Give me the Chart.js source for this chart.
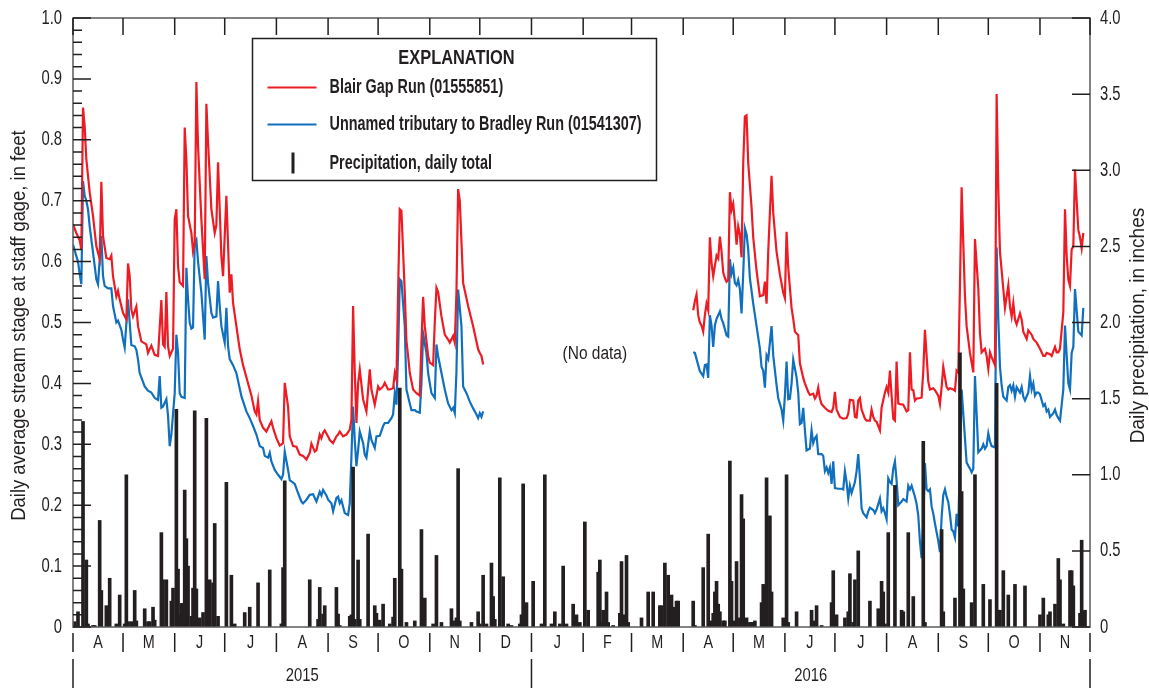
<!DOCTYPE html>
<html>
<head>
<meta charset="utf-8">
<title>Daily stream stage and precipitation, 2015-2016</title>
<script src="https://cdn.jsdelivr.net/npm/chart.js@4.4.1/dist/chart.umd.min.js"></script>
<style>
  html, body { margin: 0; padding: 0; background: #fff; }
  #wrap { width: 1149px; height: 688px; }
</style>
</head>
<body>
<div id="wrap"><canvas id="stageChart" width="1149" height="688"></canvas></div>
<script>
// Day numbers count from 1 April 2015 (day 0) through 1 December 2016 (day 610)
const monthStarts = [0, 30, 61, 91, 122, 153, 183, 214, 244, 275, 306, 335, 366, 396, 427, 457, 488, 519, 549, 580, 610]
const monthLabels = ['A', 'M', 'J', 'J', 'A', 'S', 'O', 'N', 'D', 'J', 'F', 'M', 'A', 'M', 'J', 'J', 'A', 'S', 'O', 'N']
const yearStarts = [0, 275, 610]
const yearLabels = ['2015', '2016']

const stageTicks = [0, 0.1, 0.2, 0.3, 0.4, 0.5, 0.6, 0.7, 0.8, 0.9, 1.0]
const stageTickLabels = ['0', '0.1', '0.2', '0.3', '0.4', '0.5', '0.6', '0.7', '0.8', '0.9', '1.0']
const rainTicks = [0, 0.5, 1.0, 1.5, 2.0, 2.5, 3.0, 3.5, 4.0]
const rainTickLabels = ['0', '0.5', '1.0', '1.5', '2.0', '2.5', '3.0', '3.5', '4.0']

// Blair Gap Run (01555851), daily average stage, feet
const blairDay2015 = [
  0, 2, 4, 5, 6, 7, 8, 10, 12, 14,
  16, 17, 18, 20, 22, 23, 24, 26, 27, 28,
  30, 32, 33, 34, 35, 36, 38, 39, 41, 44,
  45, 47, 49, 51, 53, 54, 55, 56, 57, 58,
  60, 61, 62, 63, 64, 66, 67, 68, 69, 71,
  72, 73, 74, 75, 77, 79, 80, 81, 83, 85,
  86, 87, 88, 89, 90, 92, 93, 94, 95, 96,
  98, 100, 102, 104, 106, 107, 109, 110, 111, 112,
  114, 116, 119, 120, 122, 124, 126, 127, 129, 130,
  132, 134, 136, 138, 140, 142, 143, 145, 146, 148,
  149, 150, 151, 153, 154, 156, 158, 159, 160, 162,
  164, 166, 167, 168, 169, 170, 171, 172, 174, 176,
  178, 179, 181, 183, 184, 186, 187, 189, 190, 192,
  193, 194, 195, 196, 197, 199, 200, 201, 202, 204,
  206, 208, 209, 210, 211, 213, 214, 216, 217, 218,
  219, 221, 223, 225, 226, 228, 229, 230, 231, 232,
  234, 237, 240, 243, 244, 245, 246
]
const blairStage2015 = [
  0.661, 0.647, 0.635, 0.62, 0.853, 0.823, 0.768, 0.714, 0.675, 0.625,
  0.604, 0.731, 0.642, 0.606, 0.604, 0.61, 0.576, 0.543, 0.552, 0.538,
  0.516, 0.505, 0.597, 0.576, 0.521, 0.51, 0.526, 0.494, 0.469, 0.464,
  0.45, 0.462, 0.447, 0.445, 0.537, 0.464, 0.46, 0.55, 0.461, 0.445,
  0.457, 0.669, 0.686, 0.593, 0.566, 0.56, 0.82, 0.768, 0.675, 0.647,
  0.617, 0.63, 0.895, 0.79, 0.669, 0.571, 0.859, 0.796, 0.686, 0.647,
  0.66, 0.763, 0.686, 0.609, 0.576, 0.708, 0.628, 0.549, 0.579, 0.532,
  0.494, 0.456, 0.43, 0.41, 0.39, 0.38, 0.354, 0.349, 0.371, 0.34,
  0.327, 0.321, 0.338, 0.327, 0.31, 0.298, 0.302, 0.401, 0.362, 0.313,
  0.297, 0.296, 0.283, 0.281, 0.275, 0.286, 0.301, 0.288, 0.29, 0.316,
  0.31, 0.319, 0.323, 0.313, 0.307, 0.302, 0.313, 0.316, 0.321, 0.313,
  0.316, 0.324, 0.34, 0.527, 0.42, 0.335, 0.40, 0.423, 0.374, 0.354,
  0.423, 0.39, 0.365, 0.395, 0.39, 0.395, 0.401, 0.39, 0.39, 0.392,
  0.417, 0.406, 0.55, 0.686, 0.683, 0.549, 0.47, 0.445, 0.417, 0.39,
  0.384, 0.38, 0.467, 0.542, 0.494, 0.445, 0.434, 0.43, 0.50, 0.557,
  0.55, 0.51, 0.48, 0.472, 0.467, 0.478, 0.467, 0.55, 0.719, 0.70,
  0.565, 0.527, 0.494, 0.456, 0.45, 0.445, 0.431
]
const blairDay2016 = [
  372, 373, 374, 375, 376, 377, 378, 379, 380, 381,
  382, 383, 384, 386, 387, 388, 389, 390, 391, 392,
  393, 394, 395, 396, 397, 398, 399, 400, 401, 402,
  403, 404, 405, 407, 408, 410, 412, 414, 415, 416,
  417, 418, 419, 420, 422, 424, 426, 427, 428, 429,
  431, 432, 433, 435, 436, 438, 439, 441, 442, 444,
  445, 446, 447, 448, 449, 451, 453, 455, 456, 457,
  458, 459, 460, 462, 464, 465, 466, 468, 469, 470,
  471, 472, 473, 475, 476, 478, 479, 480, 481, 482,
  484, 485, 487, 488, 489, 490, 491, 492, 493, 494,
  495, 496, 498, 500, 501, 502, 503, 504, 505, 506,
  508, 509, 510, 511, 513, 514, 516, 517, 519, 520,
  521, 522, 524, 525, 526, 528, 529, 530, 531, 532,
  533, 534, 535, 536, 538, 540, 541, 543, 544, 545,
  547, 548, 549, 550, 551, 553, 554, 555, 556, 558,
  559, 561, 562, 563, 564, 565, 566, 568, 569, 570,
  572, 573, 575, 576, 578, 580, 582, 583, 584, 586,
  587, 589, 590, 591, 592, 594, 595, 596, 597, 598,
  599, 600, 601, 602, 603, 604, 605, 606
]
const blairStage2016 = [
  0.52, 0.535, 0.546, 0.512, 0.50, 0.495, 0.485, 0.512, 0.531, 0.52,
  0.64, 0.598, 0.576, 0.61, 0.605, 0.641, 0.617, 0.582, 0.573, 0.567,
  0.57, 0.714, 0.685, 0.695, 0.665, 0.628, 0.658, 0.645, 0.607, 0.762,
  0.838, 0.84, 0.762, 0.689, 0.64, 0.585, 0.543, 0.545, 0.567, 0.531,
  0.616, 0.68, 0.741, 0.68, 0.616, 0.579, 0.549, 0.54, 0.649, 0.59,
  0.524, 0.506, 0.485, 0.479, 0.433, 0.409, 0.40, 0.386, 0.381, 0.383,
  0.375, 0.38, 0.393, 0.375, 0.366, 0.36, 0.355, 0.353, 0.36, 0.386,
  0.357, 0.351, 0.345, 0.342, 0.343, 0.35, 0.373, 0.372, 0.345, 0.344,
  0.372, 0.376, 0.357, 0.342, 0.339, 0.339, 0.357, 0.345, 0.339, 0.337,
  0.323, 0.36, 0.385, 0.394, 0.385, 0.421, 0.38, 0.342, 0.339, 0.436,
  0.367, 0.366, 0.365, 0.354, 0.356, 0.451, 0.39, 0.389, 0.372, 0.375,
  0.376, 0.377, 0.42, 0.488, 0.403, 0.39, 0.392, 0.389, 0.38, 0.366,
  0.394, 0.427, 0.394, 0.39, 0.392, 0.39, 0.388, 0.421, 0.418, 0.56,
  0.722, 0.63, 0.543, 0.494, 0.45, 0.418, 0.637, 0.556, 0.482, 0.451,
  0.457, 0.445, 0.424, 0.451, 0.443, 0.43, 0.875, 0.719, 0.616, 0.555,
  0.524, 0.561, 0.526, 0.51, 0.532, 0.505, 0.497, 0.515, 0.505, 0.485,
  0.473, 0.487, 0.48, 0.473, 0.467, 0.457, 0.445, 0.445, 0.45, 0.448,
  0.445, 0.46, 0.451, 0.451, 0.457, 0.517, 0.686, 0.61, 0.57, 0.56,
  0.62, 0.625, 0.751, 0.70, 0.652, 0.64, 0.622, 0.647
]

// Unnamed tributary to Bradley Run (01541307), daily average stage, feet
const bradleyDay2015 = [
  0, 2, 3, 4, 5, 6, 7, 8, 9, 10,
  12, 14, 15, 17, 18, 19, 21, 23, 24, 26,
  27, 29, 30, 31, 33, 34, 35, 37, 38, 39,
  40, 43, 45, 47, 49, 51, 52, 53, 54, 56,
  57, 58, 59, 61, 62, 63, 64, 65, 67, 68,
  69, 70, 71, 72, 73, 74, 75, 77, 79, 80,
  81, 83, 84, 86, 87, 88, 89, 91, 92, 93,
  94, 96, 98, 101, 104, 106, 108, 110, 112, 114,
  115, 117, 118, 119, 121, 123, 125, 126, 127, 129,
  130, 133, 135, 137, 138, 140, 142, 144, 146, 147,
  148, 149, 150, 152, 153, 155, 156, 158, 159, 160,
  161, 163, 165, 166, 167, 168, 169, 170, 171, 172,
  174, 175, 176, 178, 179, 181, 182, 184, 186, 187,
  189, 191, 192, 193, 194, 195, 196, 197, 199, 200,
  202, 203, 205, 206, 208, 209, 210, 212, 213, 215,
  217, 218, 219, 221, 223, 225, 227, 228, 229, 230,
  231, 233, 234, 236, 238, 240, 242, 243, 244, 245,
  246
]
const bradleyStage2015 = [
  0.628, 0.609, 0.60, 0.58, 0.563, 0.732, 0.708, 0.70, 0.686, 0.658,
  0.615, 0.571, 0.563, 0.642, 0.576, 0.56, 0.556, 0.556, 0.527, 0.50,
  0.503, 0.488, 0.472, 0.459, 0.538, 0.50, 0.463, 0.461, 0.455, 0.439,
  0.417, 0.395, 0.388, 0.385, 0.376, 0.373, 0.412, 0.36, 0.362, 0.374,
  0.347, 0.297, 0.316, 0.384, 0.48, 0.45, 0.384, 0.378, 0.376, 0.59,
  0.538, 0.50, 0.49, 0.492, 0.631, 0.636, 0.60, 0.549, 0.472, 0.609,
  0.565, 0.516, 0.508, 0.51, 0.568, 0.527, 0.494, 0.467, 0.524, 0.461,
  0.44, 0.43, 0.417, 0.379, 0.354, 0.343, 0.33, 0.316, 0.297, 0.294,
  0.281, 0.278, 0.286, 0.272, 0.258, 0.25, 0.243, 0.25, 0.288, 0.258,
  0.241, 0.235, 0.22, 0.206, 0.203, 0.209, 0.217, 0.218, 0.206, 0.214,
  0.222, 0.216, 0.225, 0.216, 0.209, 0.203, 0.19, 0.212, 0.214, 0.203,
  0.208, 0.187, 0.184, 0.203, 0.28, 0.362, 0.307, 0.264, 0.29, 0.321,
  0.302, 0.283, 0.278, 0.321, 0.307, 0.294, 0.313, 0.314, 0.33, 0.335,
  0.335, 0.343, 0.349, 0.384, 0.365, 0.45, 0.571, 0.568, 0.494, 0.39,
  0.367, 0.356, 0.356, 0.354, 0.352, 0.40, 0.482, 0.45, 0.417, 0.384,
  0.376, 0.464, 0.445, 0.417, 0.39, 0.367, 0.356, 0.36, 0.351, 0.42,
  0.554, 0.494, 0.395, 0.384, 0.37, 0.359, 0.349, 0.343, 0.351, 0.345,
  0.354
]
const bradleyDay2016 = [
  372, 373, 375, 376, 378, 379, 380, 381, 382, 383,
  384, 385, 386, 388, 389, 390, 392, 393, 394, 395,
  396, 397, 398, 399, 400, 401, 402, 403, 404, 405,
  406, 408, 410, 412, 413, 414, 415, 416, 417, 419,
  420, 422, 423, 425, 426, 427, 428, 429, 430, 431,
  432, 434, 435, 436, 437, 438, 439, 440, 442, 443,
  444, 445, 446, 447, 449, 450, 451, 452, 453, 454,
  455, 456, 457, 459, 461, 462, 463, 464, 465, 466,
  467, 469, 470, 471, 472, 473, 474, 476, 477, 478,
  480, 481, 482, 484, 485, 486, 487, 488, 489, 490,
  491, 492, 493, 494, 495, 497, 498, 500, 501, 502,
  503, 505, 506, 507, 508, 509, 510, 511, 512, 513,
  514, 515, 516, 517, 519, 520, 521, 522, 523, 524,
  525, 526, 527, 528, 529, 530, 531, 532, 533, 534,
  535, 536, 538, 539, 540, 541, 542, 543, 545, 546,
  547, 548, 549, 550, 551, 553, 554, 555, 556, 557,
  558, 560, 561, 562, 563, 564, 565, 566, 568, 569,
  570, 571, 573, 574, 575, 576, 577, 578, 579, 580,
  582, 583, 584, 585, 586, 588, 589, 590, 591, 592,
  594, 595, 596, 597, 598, 599, 600, 601, 602, 603,
  604, 605, 606
]
const bradleyStage2016 = [
  0.451, 0.45, 0.43, 0.42, 0.412, 0.43, 0.431, 0.409, 0.512, 0.495,
  0.46, 0.495, 0.506, 0.518, 0.506, 0.499, 0.479, 0.477, 0.604, 0.58,
  0.59, 0.565, 0.561, 0.57, 0.555, 0.515, 0.58, 0.655, 0.645, 0.62,
  0.573, 0.531, 0.494, 0.457, 0.427, 0.421, 0.393, 0.446, 0.44, 0.494,
  0.446, 0.397, 0.376, 0.357, 0.339, 0.38, 0.436, 0.374, 0.375, 0.40,
  0.439, 0.41, 0.385, 0.333, 0.335, 0.36, 0.323, 0.29, 0.293, 0.323,
  0.302, 0.31, 0.314, 0.284, 0.284, 0.281, 0.256, 0.262, 0.253, 0.262,
  0.235, 0.272, 0.228, 0.227, 0.227, 0.226, 0.256, 0.238, 0.211, 0.232,
  0.22, 0.238, 0.256, 0.284, 0.244, 0.195, 0.187, 0.18, 0.19, 0.196,
  0.192, 0.187, 0.193, 0.211, 0.19, 0.195, 0.187, 0.177, 0.244, 0.238,
  0.235, 0.26, 0.272, 0.24, 0.2, 0.206, 0.21, 0.206, 0.232, 0.226,
  0.232, 0.214, 0.202, 0.183, 0.14, 0.113, 0.17, 0.269, 0.226, 0.223,
  0.226, 0.198, 0.186, 0.17, 0.141, 0.123, 0.18, 0.217, 0.226, 0.214,
  0.205, 0.185, 0.16, 0.157, 0.147, 0.186, 0.165, 0.28, 0.39, 0.35,
  0.31, 0.27, 0.26, 0.254, 0.26, 0.412, 0.35, 0.287, 0.293, 0.30,
  0.293, 0.297, 0.318, 0.305, 0.297, 0.295, 0.623, 0.506, 0.427, 0.397,
  0.378, 0.372, 0.394, 0.397, 0.388, 0.397, 0.378, 0.394, 0.385, 0.394,
  0.378, 0.372, 0.385, 0.412, 0.39, 0.40, 0.38, 0.385, 0.385, 0.382,
  0.363, 0.366, 0.354, 0.357, 0.345, 0.351, 0.357, 0.348, 0.343, 0.339,
  0.39, 0.495, 0.446, 0.40, 0.39, 0.45, 0.46, 0.555, 0.52, 0.485,
  0.482, 0.479, 0.524
]

// Daily precipitation totals, inches
const rainDay = [
  1, 3, 6, 8, 9, 12, 13, 16, 17, 20,
  22, 26, 28, 31, 32, 33, 35, 37, 38, 43,
  45, 46, 48, 49, 53, 54, 56, 59, 60, 62,
  63, 64, 65, 67, 68, 69, 71, 72, 73, 74,
  76, 78, 80, 82, 84, 85, 87, 92, 95, 97,
  103, 106, 111, 118, 125, 126, 127, 142, 147, 148,
  150, 151, 158, 159, 160, 166, 167, 168, 169, 171,
  172, 177, 181, 182, 184, 186, 190, 192, 193, 196,
  197, 200, 205, 209, 211, 216, 218, 221, 227, 228,
  230, 231, 232, 239, 243, 244, 246, 248, 251, 252,
  253, 256, 258, 261, 263, 268, 269, 270, 272, 276,
  281, 283, 287, 289, 292, 294, 296, 300, 301, 302,
  304, 307, 309, 315, 316, 317, 318, 320, 321, 324,
  328, 329, 330, 332, 333, 341, 345, 348, 352, 353,
  355, 357, 359, 360, 362, 363, 372, 373, 378, 381,
  383, 384, 385, 386, 387, 388, 390, 391, 394, 395,
  396, 398, 400, 401, 402, 404, 406, 407, 408, 409,
  413, 414, 416, 418, 419, 426, 428, 429, 434, 443,
  444, 446, 449, 455, 456, 458, 463, 465, 466, 468,
  469, 471, 478, 483, 485, 486, 487, 489, 493, 497,
  498, 501, 504, 510, 511, 521, 522, 529, 532, 533,
  534, 539, 541, 546, 550, 554, 555, 556, 558, 561,
  565, 571, 580, 582, 585, 586, 589, 591, 592, 594,
  598, 599, 600, 604, 605, 606, 607
]
const rainInches = [
  0.035, 0.1, 1.35, 0.44, 0.02, 0.01, 0.01, 0.70, 0.24, 0.14,
  0.32, 0.02, 0.21, 0.02, 1.0, 0.035, 0.035, 0.24, 0.04, 0.12,
  0.035, 0.035, 0.13, 0.045, 0.62, 0.31, 0.31, 0.17, 0.255, 1.43,
  0.38, 0.08, 0.155, 0.90, 0.58, 0.40, 0.07, 0.255, 1.42, 0.25,
  0.06, 0.095, 1.37, 0.31, 0.29, 0.68, 0.07, 0.95, 0.34, 0.02,
  0.095, 0.13, 0.29, 0.375, 0.02, 0.39, 0.96, 0.31, 0.05, 0.26,
  0.085, 0.14, 0.26, 0.085, 0.01, 0.07, 0.08, 1.05, 0.05, 0.44,
  0.05, 0.61, 0.14, 0.09, 0.045, 0.15, 0.02, 0.065, 0.32, 1.57,
  0.38, 0.03, 0.04, 0.64, 0.19, 0.02, 0.47, 0.03, 0.12, 0.04,
  0.06, 1.04, 0.04, 0.03, 0.10, 0.02, 0.34, 0.02, 0.42, 0.2,
  0.05, 0.98, 0.33, 0.02, 0.01, 0.02, 0.08, 0.94, 0.16, 0.30,
  0.02, 1.0, 0.02, 0.1, 0.02, 0.4, 0.02, 0.15, 0.06, 0.08,
  0.03, 0.69, 0.11, 0.36, 0.44, 0.03, 0.11, 0.23, 0.03, 0.01,
  0.09, 0.43, 0.08, 0.47, 0.03, 0.06, 0.23, 0.23, 0.14, 0.14,
  0.42, 0.34, 0.21, 0.13, 0.17, 0.17, 0.17, 0.01, 0.39, 0.61,
  0.04, 0.09, 0.23, 0.3, 0.15, 0.1, 0.04, 0.04, 1.09, 0.30,
  0.04, 0.43, 0.06, 0.87, 0.71, 0.06, 0.03, 0.03, 0.03, 0.04,
  0.16, 0.28, 0.98, 0.73, 0.23, 0.06, 1.0, 0.03, 0.1, 0.11,
  0.04, 0.14, 0.01, 0.16, 0.37, 0.08, 0.06, 0.1, 0.35, 0.03,
  0.31, 0.5, 0.17, 0.12, 0.3, 0.23, 0.02, 0.62, 0.93, 0.11,
  0.1, 0.62, 0.2, 1.22, 0.03, 0.64, 0.1, 0.19, 1.80, 0.89,
  0.25, 0.16, 1.0, 0.28, 0.18, 1.6, 0.11, 0.11, 0.37, 0.21,
  0.28, 0.27, 0.08, 0.19, 0.08, 0.1, 0.15, 0.45, 0.31, 0.02,
  0.37, 0.37, 0.27, 0.09, 0.57, 0.1, 0.11
]

const RED = '#ed1c24'
const BLUE = '#1170be'
const INK = '#231f20'
const FRAME = '#5a5a5c'

// Lettering is a condensed sans: Liberation Sans squeezed horizontally by `width`
const FAMILY = '"Liberation Sans", Arial, sans-serif'

function pairs(days, values) {
  return days.map((d, i) => ({ x: d, y: values[i] }))
}

// the two record periods, with a break over the winter with no record
function stageSeries(days15, vals15, days16, vals16) {
  return [...pairs(days15, vals15), { x: 309, y: null }, ...pairs(days16, vals16)]
}

function label(ctx, str, x, y, opts = {}) {
  const { size = 18, bold = false, align = 'center', rotate = 0, width = 0.82 } = opts
  ctx.save()
  ctx.translate(x, y)
  if (rotate) ctx.rotate(rotate)
  ctx.scale(width, 1)
  ctx.font = `${bold ? 'bold ' : ''}${size}px ${FAMILY}`
  ctx.textAlign = align
  ctx.textBaseline = 'middle'
  ctx.fillStyle = INK
  ctx.fillText(str, 0, 0)
  ctx.restore()
}

const axisDecor = {
  id: 'axisDecor',
  afterDraw(chart) {
    const { ctx, chartArea: area, scales } = chart
    const { x, y, yP } = scales
    ctx.save()

    ctx.strokeStyle = FRAME
    ctx.lineWidth = 1.5
    ctx.strokeRect(area.left, area.top, area.right - area.left, area.bottom - area.top)

    ctx.strokeStyle = INK
    ctx.beginPath()
    // stage axis: long ticks every 0.1 ft, short ticks every 0.02 ft
    for (let i = 0; i <= 50; i++) {
      const py = y.getPixelForValue(i / 50)
      ctx.moveTo(area.left, py)
      ctx.lineTo(area.left + (i % 5 === 0 ? 18 : 9), py)
    }
    rainTicks.forEach(v => {
      const py = yP.getPixelForValue(v)
      ctx.moveTo(area.right, py)
      ctx.lineTo(area.right - 18, py)
    })
    monthStarts.forEach(d => {
      const px = x.getPixelForValue(d)
      ctx.moveTo(px, area.top)
      ctx.lineTo(px, area.top + 17)
      ctx.moveTo(px, area.bottom + 6)
      ctx.lineTo(px, area.bottom + 25)
    })
    yearStarts.forEach(d => {
      const px = x.getPixelForValue(d)
      ctx.moveTo(px, area.bottom + 32)
      ctx.lineTo(px, area.bottom + 61)
    })
    ctx.stroke()

    stageTicks.forEach((v, i) => label(ctx, stageTickLabels[i], area.left - 11, y.getPixelForValue(v), { size: 20, width: 0.74, align: 'right' }))
    rainTicks.forEach((v, i) => label(ctx, rainTickLabels[i], area.right + 10, yP.getPixelForValue(v), { size: 20, width: 0.74, align: 'left' }))

    monthLabels.forEach((m, i) => {
      const px = (x.getPixelForValue(monthStarts[i]) + x.getPixelForValue(monthStarts[i + 1])) / 2
      label(ctx, m, px, area.bottom + 16, { size: 18, width: 0.8 })
    })
    yearLabels.forEach((yr, i) => {
      const px = (x.getPixelForValue(yearStarts[i]) + x.getPixelForValue(yearStarts[i + 1])) / 2
      label(ctx, yr, px, area.bottom + 49, { size: 19, width: 0.78 })
    })

    const midY = (area.top + area.bottom) / 2 + 3
    label(ctx, 'Daily average stream stage at staff gage, in feet', 19, midY, { size: 20, width: 0.92, rotate: -Math.PI / 2 })
    label(ctx, 'Daily precipitation, in inches', 1138, midY, { size: 20, width: 0.95, rotate: -Math.PI / 2 })

    label(ctx, '(No data)', x.getPixelForValue(313), y.getPixelForValue(0.449), { size: 18, width: 0.86 })

    // explanation box
    const bx = 252.5, by = 38.5, bw = 404, bh = 142
    ctx.fillStyle = '#fff'
    ctx.fillRect(bx, by, bw, bh)
    ctx.strokeStyle = INK
    ctx.lineWidth = 1.5
    ctx.strokeRect(bx, by, bw, bh)
    label(ctx, 'EXPLANATION', bx + 204, by + 20, { size: 20, bold: true, width: 0.82 })

    const rows = [
      { y: by + 49, color: RED, text: 'Blair Gap Run (01555851)' },
      { y: by + 86, color: BLUE, text: 'Unnamed tributary to Bradley Run (01541307)' }
    ]
    rows.forEach(r => {
      ctx.strokeStyle = r.color
      ctx.lineWidth = 2
      ctx.beginPath()
      ctx.moveTo(bx + 15, r.y)
      ctx.lineTo(bx + 64, r.y)
      ctx.stroke()
      label(ctx, r.text, bx + 77, r.y, { size: 20, bold: true, width: 0.72, align: 'left' })
    })
    ctx.fillStyle = INK
    ctx.fillRect(bx + 39, by + 114, 3, 21)
    label(ctx, 'Precipitation, daily total', bx + 77, by + 125, { size: 20, bold: true, width: 0.72, align: 'left' })

    ctx.restore()
  }
}

new Chart(document.getElementById('stageChart'), {
  type: 'bar',
  data: {
    datasets: [
      {
        type: 'line',
        label: 'Blair Gap Run (01555851)',
        data: stageSeries(blairDay2015, blairStage2015, blairDay2016, blairStage2016),
        yAxisID: 'y',
        borderColor: RED,
        borderWidth: 2.2,
        pointRadius: 0,
        tension: 0,
        spanGaps: false,
        order: 2
      },
      {
        type: 'line',
        label: 'Unnamed tributary to Bradley Run (01541307)',
        data: stageSeries(bradleyDay2015, bradleyStage2015, bradleyDay2016, bradleyStage2016),
        yAxisID: 'y',
        borderColor: BLUE,
        borderWidth: 2.2,
        pointRadius: 0,
        tension: 0,
        spanGaps: false,
        order: 3
      },
      {
        label: 'Precipitation, daily total',
        data: pairs(rainDay, rainInches),
        yAxisID: 'yP',
        backgroundColor: INK,
        barThickness: 3,
        order: 1
      }
    ]
  },
  options: {
    responsive: false,
    animation: false,
    layout: { padding: { left: 73, right: 59, top: 18, bottom: 61 } },
    plugins: { legend: { display: false }, tooltip: { enabled: false } },
    scales: {
      x: { type: 'linear', min: 0, max: 610, offset: false, display: false },
      y: { min: 0, max: 1, display: false },
      yP: { min: 0, max: 4, display: false, position: 'right' }
    }
  },
  plugins: [axisDecor]
})
</script>
</body>
</html>
